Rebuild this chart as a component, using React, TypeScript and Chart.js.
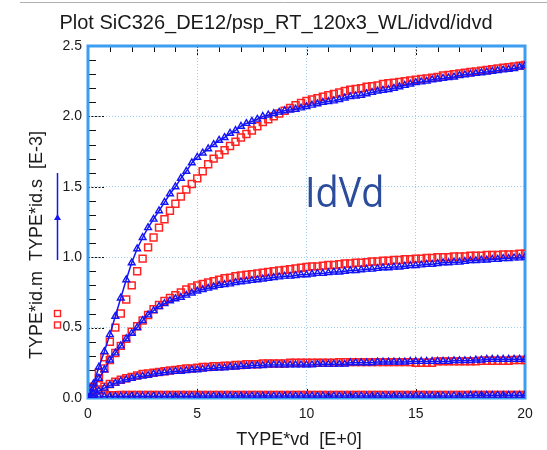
import React, { useEffect, useRef } from "react";
import { Chart, registerables } from "chart.js";

Chart.register(...registerables);

// Drain voltage (V), 0.25 V steps
const VD = [
  0, 0.25, 0.5, 0.75, 1, 1.25, 1.5, 1.75, 2, 2.25,
  2.5, 2.75, 3, 3.25, 3.5, 3.75, 4, 4.25, 4.5, 4.75,
  5, 5.25, 5.5, 5.75, 6, 6.25, 6.5, 6.75, 7, 7.25,
  7.5, 7.75, 8, 8.25, 8.5, 8.75, 9, 9.25, 9.5, 9.75,
  10, 10.25, 10.5, 10.75, 11, 11.25, 11.5, 11.75, 12, 12.25,
  12.5, 12.75, 13, 13.25, 13.5, 13.75, 14, 14.25, 14.5, 14.75,
  15, 15.25, 15.5, 15.75, 16, 16.25, 16.5, 16.75, 17, 17.25,
  17.5, 17.75, 18, 18.25, 18.5, 18.75, 19, 19.25, 19.5, 19.75,
  20,
];

// Simulated (id.s, blue) and measured (id.m, red) drain currents [E-3]
const SIM_1 = [
  0, 0.1, 0.22, 0.33, 0.45, 0.58, 0.71, 0.84, 0.96, 1.06,
  1.14, 1.21, 1.27, 1.33, 1.39, 1.45, 1.5, 1.56, 1.61, 1.67,
  1.71, 1.74, 1.77, 1.8, 1.83, 1.85, 1.88, 1.9, 1.93, 1.95,
  1.965, 1.98, 2.0, 2.01, 2.02, 2.03, 2.04, 2.045, 2.05, 2.06,
  2.07, 2.08, 2.09, 2.1, 2.105, 2.11, 2.12, 2.13, 2.14, 2.145,
  2.15, 2.16, 2.17, 2.18, 2.185, 2.19, 2.2, 2.21, 2.22, 2.23,
  2.24, 2.245, 2.25, 2.26, 2.265, 2.27, 2.275, 2.28, 2.29, 2.295,
  2.3, 2.305, 2.31, 2.315, 2.32, 2.325, 2.33, 2.335, 2.34, 2.35,
  2.36,
];
const MEAS_1 = [
  0, 0.08, 0.18, 0.29, 0.4, 0.5, 0.6, 0.7, 0.8, 0.9,
  0.99, 1.07, 1.14, 1.21, 1.27, 1.33, 1.38, 1.43, 1.48, 1.52,
  1.56, 1.61, 1.66, 1.7, 1.73, 1.76, 1.79, 1.82, 1.85, 1.875,
  1.9, 1.93, 1.96, 1.98, 2.0, 2.02, 2.04, 2.06, 2.08, 2.095,
  2.11, 2.12, 2.13, 2.14, 2.15, 2.16, 2.17, 2.18, 2.19, 2.195,
  2.2, 2.21, 2.215, 2.22, 2.23, 2.235, 2.24, 2.245, 2.25, 2.255,
  2.26, 2.265, 2.27, 2.275, 2.28, 2.29, 2.295, 2.3, 2.305, 2.31,
  2.315, 2.32, 2.325, 2.33, 2.335, 2.34, 2.345, 2.35, 2.355, 2.36,
  2.365,
];
const SIM_2 = [
  0, 0.07, 0.14, 0.2, 0.27, 0.32, 0.37, 0.42, 0.46, 0.5,
  0.55, 0.59, 0.62, 0.65, 0.67, 0.69, 0.705, 0.715, 0.73, 0.745,
  0.76, 0.77, 0.78, 0.79, 0.8, 0.805, 0.81, 0.82, 0.825, 0.83,
  0.835, 0.84, 0.845, 0.85, 0.855, 0.86, 0.865, 0.865, 0.87, 0.875,
  0.875, 0.88, 0.885, 0.885, 0.89, 0.895, 0.895, 0.9, 0.905, 0.905,
  0.91, 0.915, 0.915, 0.92, 0.925, 0.925, 0.93, 0.93, 0.935, 0.94,
  0.94, 0.945, 0.95, 0.95, 0.955, 0.96, 0.96, 0.965, 0.965, 0.97,
  0.975, 0.975, 0.98, 0.98, 0.985, 0.985, 0.99, 0.99, 0.995, 0.995,
  1.0,
];
const MEAS_2 = [
  0, 0.07, 0.14, 0.21, 0.27, 0.32, 0.37, 0.42, 0.47, 0.51,
  0.55, 0.59, 0.63, 0.66, 0.69, 0.71, 0.73, 0.75, 0.77, 0.785,
  0.8, 0.81, 0.82, 0.83, 0.84, 0.85, 0.855, 0.865, 0.87, 0.875,
  0.88, 0.885, 0.89, 0.895, 0.9, 0.905, 0.91, 0.915, 0.92, 0.925,
  0.93, 0.935, 0.935, 0.94, 0.945, 0.945, 0.95, 0.955, 0.955, 0.96,
  0.96, 0.965, 0.97, 0.97, 0.975, 0.975, 0.98, 0.98, 0.985, 0.985,
  0.99, 0.99, 0.995, 0.995, 1.0, 1.0, 1.0, 1.005, 1.005, 1.005,
  1.01, 1.01, 1.01, 1.015, 1.015, 1.015, 1.02, 1.02, 1.02, 1.025,
  1.025,
];
const SIM_3 = [
  0, 0.03, 0.05, 0.07, 0.09, 0.105, 0.12, 0.13, 0.14, 0.15,
  0.155, 0.16, 0.17, 0.175, 0.18, 0.185, 0.19, 0.19, 0.195, 0.2,
  0.2, 0.205, 0.21, 0.21, 0.215, 0.215, 0.22, 0.22, 0.225, 0.225,
  0.23, 0.23, 0.23, 0.235, 0.235, 0.235, 0.235, 0.235, 0.235, 0.235,
  0.235, 0.235, 0.24, 0.24, 0.24, 0.24, 0.24, 0.24, 0.25, 0.25,
  0.25, 0.25, 0.25, 0.255, 0.255, 0.255, 0.255, 0.255, 0.255, 0.26,
  0.26, 0.26, 0.26, 0.26, 0.26, 0.26, 0.26, 0.265, 0.265, 0.265,
  0.265, 0.27, 0.27, 0.275, 0.275, 0.275, 0.275, 0.275, 0.275, 0.275,
  0.275,
];
const MEAS_3 = [
  0, 0.03, 0.06, 0.08, 0.1, 0.115, 0.13, 0.14, 0.15, 0.16,
  0.17, 0.175, 0.18, 0.185, 0.19, 0.195, 0.2, 0.205, 0.21, 0.21,
  0.215, 0.22, 0.22, 0.225, 0.225, 0.23, 0.23, 0.235, 0.235, 0.24,
  0.24, 0.24, 0.245, 0.245, 0.245, 0.245, 0.245, 0.25, 0.25, 0.25,
  0.25, 0.25, 0.25, 0.25, 0.25, 0.25, 0.255, 0.255, 0.255, 0.255,
  0.255, 0.255, 0.255, 0.255, 0.255, 0.255, 0.255, 0.255, 0.255, 0.255,
  0.25, 0.25, 0.25, 0.25, 0.26, 0.26, 0.26, 0.26, 0.26, 0.26,
  0.26, 0.26, 0.265, 0.265, 0.265, 0.265, 0.265, 0.265, 0.27, 0.27,
  0.27,
];
const SIM_4 = [
  0, 0.005, 0.008, 0.01, 0.011, 0.012, 0.012, 0.013, 0.013, 0.013,
  0.013, 0.013, 0.013, 0.013, 0.013, 0.013, 0.013, 0.013, 0.013, 0.013,
  0.014, 0.014, 0.014, 0.014, 0.014, 0.014, 0.014, 0.014, 0.014, 0.014,
  0.014, 0.014, 0.014, 0.014, 0.014, 0.014, 0.014, 0.014, 0.014, 0.014,
  0.014, 0.014, 0.014, 0.014, 0.014, 0.014, 0.014, 0.014, 0.014, 0.014,
  0.014, 0.014, 0.014, 0.014, 0.014, 0.014, 0.014, 0.014, 0.014, 0.014,
  0.015, 0.015, 0.015, 0.015, 0.015, 0.015, 0.015, 0.015, 0.015, 0.015,
  0.02, 0.02, 0.02, 0.02, 0.02, 0.02, 0.02, 0.02, 0.02, 0.02,
  0.02,
];
const MEAS_4 = [
  0, 0.01, 0.015, 0.018, 0.02, 0.02, 0.021, 0.021, 0.021, 0.021,
  0.021, 0.021, 0.021, 0.021, 0.021, 0.021, 0.021, 0.021, 0.021, 0.021,
  0.021, 0.021, 0.021, 0.021, 0.021, 0.021, 0.021, 0.021, 0.021, 0.021,
  0.021, 0.021, 0.021, 0.021, 0.021, 0.021, 0.021, 0.021, 0.021, 0.021,
  0.022, 0.022, 0.022, 0.022, 0.022, 0.022, 0.022, 0.022, 0.022, 0.022,
  0.022, 0.022, 0.022, 0.022, 0.022, 0.022, 0.022, 0.022, 0.022, 0.022,
  0.022, 0.022, 0.022, 0.022, 0.022, 0.022, 0.022, 0.022, 0.022, 0.022,
  0.022, 0.022, 0.022, 0.022, 0.022, 0.022, 0.022, 0.022, 0.022, 0.022,
  0.022,
];

const SIM_SERIES = [SIM_1, SIM_2, SIM_3, SIM_4];
const MEAS_SERIES = [MEAS_1, MEAS_2, MEAS_3, MEAS_4];

const X_MIN = 0;
const X_MAX = 20;
const X_STEP = 5;
const X_MINOR = 1;
const Y_MIN = 0;
const Y_MAX = 2.5;
const Y_STEP = 0.5;
const Y_MINOR = 0.1;

const TITLE = "Plot SiC326_DE12/psp_RT_120x3_WL/idvd/idvd";
const X_TITLE = "TYPE*vd  [E+0]";
const Y_TITLE = "TYPE*id.m  TYPE*id.s  [E-3]";
const ANNOTATION = "IdVd";

const BLUE = "#1414f5";
const RED = "#ff2222";
const FRAME = "#3d9df2";
const FONT = "'Liberation Sans', Arial, sans-serif";

const toPoints = (ys: number[]) => ys.map((y, i) => ({ x: VD[i], y }));

const decoPlugin = {
  id: "deco",
  beforeDatasetsDraw(chart: any) {
    const { ctx, chartArea: a, scales } = chart;
    const x = scales.x;
    const y = scales.y;
    ctx.save();
    const line = (x1: number, y1: number, x2: number, y2: number) => {
      ctx.beginPath();
      ctx.moveTo(x1, y1);
      ctx.lineTo(x2, y2);
      ctx.stroke();
    };
    // minor ticks
    ctx.strokeStyle = "#111";
    ctx.lineWidth = 1;
    ctx.setLineDash([]);
    const nx = Math.round((X_MAX - X_MIN) / X_MINOR);
    for (let k = 1; k < nx; k++) {
      const v = X_MIN + k * X_MINOR;
      if (Math.abs(v / X_STEP - Math.round(v / X_STEP)) < 1e-6) continue;
      const px = Math.round(x.getPixelForValue(v)) + 0.5;
      line(px, a.top, px, a.top + 6);
      line(px, a.bottom, px, a.bottom - 6);
    }
    const ny = Math.round((Y_MAX - Y_MIN) / Y_MINOR);
    for (let k = 1; k < ny; k++) {
      const v = Y_MIN + k * Y_MINOR;
      if (Math.abs(v / Y_STEP - Math.round(v / Y_STEP)) < 1e-6) continue;
      const py = Math.round(y.getPixelForValue(v)) + 0.5;
      line(a.left, py, a.left + 8, py);
    }
    // major dashed ticks
    ctx.setLineDash([2, 1.5]);
    for (let v = X_MIN + X_STEP; v < X_MAX; v += X_STEP) {
      const px = Math.round(x.getPixelForValue(v)) + 0.5;
      line(px, a.top, px, a.top + 10);
      line(px, a.bottom, px, a.bottom - 10);
    }
    for (let v = Y_MIN + Y_STEP; v < Y_MAX - 1e-6; v += Y_STEP) {
      const py = Math.round(y.getPixelForValue(v)) + 0.5;
      line(a.left, py, a.left + 16, py);
    }
    // frame
    ctx.setLineDash([]);
    ctx.strokeStyle = FRAME;
    ctx.lineWidth = 3;
    ctx.strokeRect(a.left, a.top, a.right - a.left, a.bottom - a.top);
    ctx.restore();
  },
  afterDraw(chart: any) {
    const { ctx } = chart;
    ctx.save();
    // top grey rule
    ctx.strokeStyle = "#b0b0b0";
    ctx.lineWidth = 1;
    ctx.beginPath();
    ctx.moveTo(20, 2.5);
    ctx.lineTo(547, 2.5);
    ctx.stroke();

    ctx.fillStyle = "#1a1a1a";
    ctx.textAlign = "center";
    ctx.textBaseline = "alphabetic";
    ctx.font = `20px ${FONT}`;
    ctx.fillText(TITLE, 276, 29);

    ctx.font = `18px ${FONT}`;
    ctx.fillText(X_TITLE, 299, 445);

    ctx.save();
    ctx.translate(42, 245);
    ctx.rotate(-Math.PI / 2);
    ctx.textBaseline = "alphabetic";
    ctx.fillText(Y_TITLE, 0, 0);
    ctx.restore();

    // annotation
    ctx.save();
    ctx.fillStyle = "#2b4c9b";
    ctx.textAlign = "left";
    ctx.translate(305, 207);
    ctx.scale(0.9, 1);
    ctx.font = `42px 'Open Sans', 'Noto Sans', sans-serif`;
    ctx.fillText(ANNOTATION, 0, 0);
    ctx.restore();

    // legend glyphs beside the y title
    ctx.strokeStyle = BLUE;
    ctx.fillStyle = BLUE;
    ctx.lineWidth = 1.5;
    ctx.beginPath();
    ctx.moveTo(57.5, 173);
    ctx.lineTo(57.5, 260);
    ctx.stroke();
    ctx.beginPath();
    ctx.moveTo(57.5, 214);
    ctx.lineTo(61, 220);
    ctx.lineTo(54, 220);
    ctx.closePath();
    ctx.fill();

    ctx.strokeStyle = RED;
    ctx.lineWidth = 1.4;
    ctx.strokeRect(54.5, 310.5, 6, 6);
    ctx.strokeRect(54.5, 322, 6, 6);
    ctx.restore();
  },
};

export default function App() {
  const ref = useRef<HTMLCanvasElement | null>(null);

  useEffect(() => {
    if (!ref.current) return;
    const simSets = SIM_SERIES.map((s, i) => ({
      label: `id.s ${i + 1}`,
      data: toPoints(s),
      showLine: true,
      borderColor: BLUE,
      borderWidth: 1.5,
      pointStyle: "triangle",
      pointRadius: 3.9,
      pointBorderColor: BLUE,
      pointBorderWidth: 1.4,
      pointBackgroundColor: "rgba(0,0,0,0)",
      tension: 0,
    }));
    const measSets = MEAS_SERIES.map((s, i) => ({
      label: `id.m ${i + 1}`,
      data: toPoints(s),
      showLine: false,
      pointStyle: "rect",
      pointRadius: 4.9,
      pointBorderColor: RED,
      pointBorderWidth: 1.5,
      pointBackgroundColor: "rgba(0,0,0,0)",
    }));
    const tickFont = { family: FONT, size: 14 };
    const chart = new Chart(ref.current, {
      type: "scatter",
      data: { datasets: [...simSets, ...measSets] as any },
      options: {
        animation: false,
        responsive: false,
        events: [],
        layout: { padding: { top: 46, right: 22, left: 0, bottom: 0 } },
        plugins: {
          legend: { display: false },
          tooltip: { enabled: false },
          title: { display: false },
        },
        scales: {
          x: {
            type: "linear",
            min: X_MIN,
            max: X_MAX,
            ticks: {
              stepSize: X_STEP,
              font: tickFont,
              color: "#1a1a1a",
              padding: 8,
              maxRotation: 0,
              autoSkip: false,
            },
            grid: { color: "#9ccff5", lineWidth: 1, drawTicks: false },
            border: { display: false, dash: [1, 2] },
            afterFit: (s: any) => {
              s.height = 52;
            },
          },
          y: {
            type: "linear",
            min: Y_MIN,
            max: Y_MAX,
            ticks: {
              stepSize: Y_STEP,
              font: tickFont,
              color: "#1a1a1a",
              padding: 6,
              callback: (v: any) => Number(v).toFixed(1),
            },
            grid: { color: "#9ccff5", lineWidth: 1, drawTicks: false },
            border: { display: false, dash: [1, 2] },
            afterFit: (s: any) => {
              s.width = 88;
            },
          },
        },
      } as any,
      plugins: [decoPlugin],
    });
    return () => chart.destroy();
  }, []);

  return (
    <div style={{ position: "absolute", left: 0, top: 0, width: 547, height: 450, background: "#fff" }}>
      <canvas ref={ref} width={547} height={450} style={{ width: 547, height: 450, display: "block" }} />
    </div>
  );
}
